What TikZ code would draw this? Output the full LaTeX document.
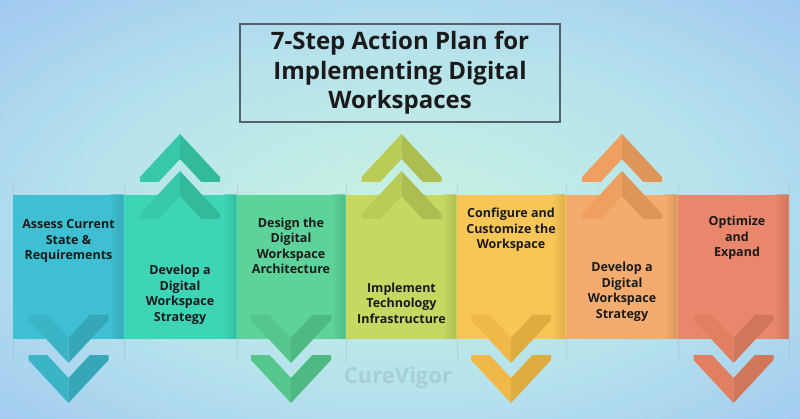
\documentclass[tikz,border=0pt]{standalone}
\usepackage{fontspec}
\setmainfont{Open Sans}
\usetikzlibrary{calc}
\definecolor{bgin}{HTML}{C9F3E1}
\definecolor{bgmid}{HTML}{B6E3EC}
\definecolor{bgout}{HTML}{8FB3F5}
\definecolor{bgfar}{HTML}{86AAF6}
\definecolor{c1}{HTML}{3FBFD2}
\definecolor{c2}{HTML}{3DD5B6}
\definecolor{c3}{HTML}{5DD39B}
\definecolor{c4}{HTML}{C6D762}
\definecolor{c5}{HTML}{F8C656}
\definecolor{c6}{HTML}{F4AC6E}
\definecolor{c7}{HTML}{E8876B}
\definecolor{h1}{HTML}{3AB4C6}
\definecolor{h2}{HTML}{36C8A7}
\definecolor{h3}{HTML}{55C78D}
\definecolor{h4}{HTML}{BACB56}
\definecolor{h5}{HTML}{F0B947}
\definecolor{h6}{HTML}{EFA060}
\definecolor{h7}{HTML}{E27F61}
\definecolor{txt}{HTML}{1A1A1A}
\definecolor{boxc}{HTML}{55616A}
\definecolor{wmc}{HTML}{A8CFD8}
\pgfdeclareradialshading{bgrad}{\pgfpoint{0bp}{0bp}}{color(0bp)=(bgin); color(14bp)=(bgmid); color(36bp)=(bgout); color(50bp)=(bgfar)}
\newcommand{\chevD}[3]{%
  \fill[#3] (#1-40,#2) -- (#1-21.4,#2) -- (#1,#2+23) -- (#1,#2+48) -- (#1-40,#2+5) -- cycle;
  \fill[#3!93!black] (#1,#2+23) -- (#1+21.4,#2) -- (#1+40,#2) -- (#1+40,#2+5) -- (#1,#2+48) -- cycle;
}
\newcommand{\chevU}[3]{%
  \fill[#3] (#1,#2) -- (#1-40,#2+43) -- (#1-40,#2+48) -- (#1-21.4,#2+48) -- (#1,#2+25) -- cycle;
  \fill[#3!93!black] (#1,#2) -- (#1+40,#2+43) -- (#1+40,#2+48) -- (#1+21.4,#2+48) -- (#1,#2+25) -- cycle;
}
\tikzset{
  colbox/.style={draw=none, inner sep=0pt, outer sep=0pt, anchor=north west, minimum height=144pt},
  lbl/.style={align=center, text=txt, inner sep=0pt, font=\bfseries\fontsize{12.5}{15.5}\selectfont},
  bline/.style={draw=black!40, opacity=0.25, line width=1pt},
}
\begin{document}
\begin{tikzpicture}[x=1pt,y=-1pt]
\useasboundingbox (0,0) rectangle (800,419);
\begin{scope}
  \clip (0,0) rectangle (800,419);
  \shade[shading=bgrad] (-160,-80) rectangle (960,520);
\end{scope}
% faint boundary lines
\foreach \x in {13,124,237,346,457,566,678,789} {\draw[bline] (\x,182) -- (\x,360);}
% columns
\node[colbox, fill=c1, minimum width=111pt] (col1) at (13,195) {};
\node[colbox, fill=c2, minimum width=113pt] (col2) at (124,195) {};
\node[colbox, fill=c3, minimum width=109pt] (col3) at (237,195) {};
\node[colbox, fill=c4, minimum width=111pt] (col4) at (346,195) {};
\node[colbox, fill=c5, minimum width=109pt] (col5) at (457,195) {};
\node[colbox, fill=c6, minimum width=112pt] (col6) at (566,195) {};
\node[colbox, fill=c7, minimum width=111pt] (col7) at (678,195) {};
% right-edge shadows
\foreach \c/\n in {c1/col1,c2/col2,c3/col3,c4/col4,c5/col5,c6/col6,c7/col7} {
  \shade[left color=\c, right color=\c!80!black, opacity=0.55] ($(\n.north east)+(-14,0)$) rectangle ($(\n.south east)+(-1,0)$);
}
% chevrons
\chevD{68.5}{315}{h1}\chevD{68.5}{355}{h1}
\chevD{291}{315}{h3}\chevD{291}{355}{h3}
\chevD{511}{315}{h5}\chevD{511}{355}{h5}
\chevD{733.5}{315}{h7}\chevD{733.5}{355}{h7}
\chevU{180}{134}{h2}\chevU{180}{171}{h2}
\chevU{401.5}{134}{h4}\chevU{401.5}{171}{h4}
\chevU{622}{134}{h6}\chevU{622}{171}{h6}
% title
\node[draw=boxc, line width=1.1pt, minimum width=320pt, minimum height=98pt, inner sep=0pt] (titlebox) at (400,73) {};
\node[align=center, text=txt, inner sep=0pt, font=\bfseries\fontsize{24}{29.5}\selectfont] (title) at (titlebox.center) {7-Step Action Plan for\\Implementing Digital\\Workspaces};
% labels
\node[lbl] (t1) at (68.5,241) {Assess Current\\State \&\\Requirements};
\node[lbl] (t2) at (180,295) {Develop a\\Digital\\Workspace\\Strategy};
\node[lbl] (t3) at (291,246) {Design the\\Digital\\Workspace\\Architecture};
\node[lbl] (t4) at (401.5,303) {Implement\\Technology\\Infrastructure};
\node[lbl] (t5) at (511,230) {Configure and\\Customize the\\Workspace};
\node[lbl] (t6) at (622,292) {Develop a\\Digital\\Workspace\\Strategy};
\node[lbl] (t7) at (737,238) {Optimize\\and\\Expand};
% watermark
\node[text=wmc, inner sep=0pt, font=\bfseries\fontsize{22}{22}\selectfont] (wm) at (398,378) {CureVigor};
\end{tikzpicture}
\end{document}
